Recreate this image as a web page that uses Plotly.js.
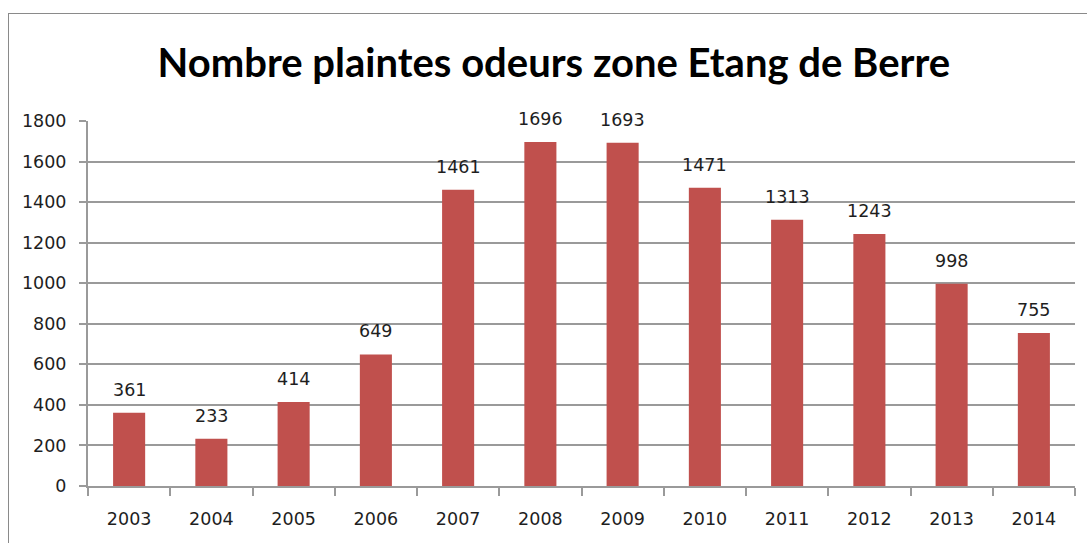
<!DOCTYPE html>
<html><head><meta charset="utf-8">
<script src="https://cdn.plot.ly/plotly-3.0.1.min.js"></script>
<style>
html,body{margin:0;padding:0;background:#fff;overflow:hidden;width:1087px;height:543px;}
#frame{position:absolute;left:8px;top:13px;width:1100px;height:540px;border:1.5px solid #8a8a8a;overflow:hidden;}
#chart{width:1100px;height:540px;}
</style></head><body>
<div id="frame"><div id="chart"></div></div>
<script>
const years = ['2003','2004','2005','2006','2007','2008','2009','2010','2011','2012','2013','2014'];
const complaints = [361,233,414,649,1461,1696,1693,1471,1313,1243,998,755];
const chartTitle = 'Nombre plaintes odeurs zone Etang de Berre';
const yTicks = [0,200,400,600,800,1000,1200,1400,1600,1800];

const titleFont = 'Lato, "Open Sans", sans-serif';
const numFont = '"DejaVu Sans", sans-serif';
const lineGray = '#9a9a9a';
const annotations = years.map((y,i)=>({
  x: i, y: complaints[i], xref:'x', yref:'y', text: String(complaints[i]),
  showarrow:false, yanchor:'bottom', yshift:11,
  font:{family:numFont,size:17.5,color:'#1e1e1e'}
}));

Plotly.newPlot('chart',[{
  type:'bar', x:years, y:complaints,
  marker:{color:'#C0504D', line:{width:0}},
  hoverinfo:'x+y'
}],{
  width:1100, height:540,
  margin:{l:79,r:34,t:107,b:68},
  paper_bgcolor:'#fff', plot_bgcolor:'#fff',
  bargap:0.61,
  showlegend:false,
  title:{text:chartTitle, x:0.472, xref:'paper', y:0.91, yref:'container', yanchor:'middle',
    font:{family:titleFont, size:40, color:'#000', weight:'bold'}},
  xaxis:{type:'category', range:[-0.5,11.5], autorange:false, showline:true, linecolor:lineGray, linewidth:2,
    ticks:'outside', tickson:'boundaries', ticklen:8, tickcolor:lineGray, tickwidth:2,
    showgrid:false, tickangle:0, tickfont:{family:numFont,size:17.5,color:'#1e1e1e'}, ticklabelstandoff:16, fixedrange:true},
  yaxis:{range:[0,1800], autorange:false, tickvals:yTicks, showline:true, linecolor:lineGray, linewidth:2,
    ticks:'outside', ticklen:7, tickcolor:lineGray, tickwidth:2,
    showgrid:true, gridcolor:lineGray, gridwidth:2, zeroline:false,
    tickfont:{family:numFont,size:17.5,color:'#1e1e1e'}, ticklabelstandoff:9, fixedrange:true},
  annotations: annotations
},{displayModeBar:false, staticPlot:true});
</script>
</body></html>
